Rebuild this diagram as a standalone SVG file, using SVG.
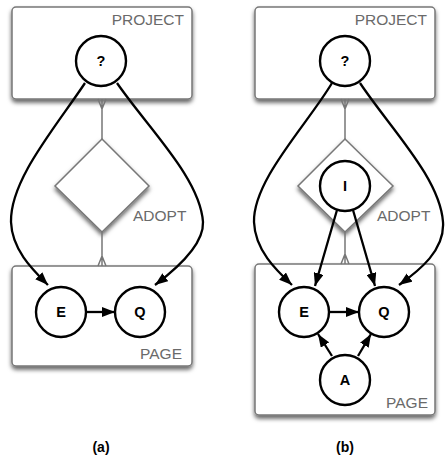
<svg xmlns="http://www.w3.org/2000/svg" width="445" height="458" viewBox="0 0 445 458">
<style>
.box{fill:#fff;stroke:#777;stroke-width:1.5;filter:url(#sh)}
.dia{fill:#fff;stroke:#777;stroke-width:1.5;filter:url(#sh)}
.lbl{font-family:"Liberation Sans",Arial,sans-serif;font-size:15.5px;fill:#6a6a6a}
.node{fill:#fff;stroke:#000;stroke-width:2.4}
.nt{font-family:"Liberation Sans",Arial,sans-serif;font-size:14.5px;font-weight:bold;fill:#000;text-anchor:middle}
.gl{fill:none;stroke:#777;stroke-width:1.5}
.bl{fill:none;stroke:#000;stroke-width:2.3;marker-end:url(#ah)}
.cap{font-family:"Liberation Sans",Arial,sans-serif;font-size:14px;font-weight:bold;fill:#000;text-anchor:middle}
</style>
<defs>
<filter id="sh" x="-20%" y="-20%" width="140%" height="150%">
<feDropShadow dx="0" dy="3" stdDeviation="2" flood-color="#000" flood-opacity="0.6"/>
</filter>
<marker id="ah" viewBox="0 0 13 10" refX="13" refY="5" markerWidth="13" markerHeight="10" markerUnits="userSpaceOnUse" orient="auto">
<path d="M0,0 L13,5 L0,10 z" fill="#000"/>
</marker>
</defs>

<g id="project-a"><rect class="box" x="12" y="7" width="180" height="92" rx="4"/><text class="lbl" x="184" y="25" text-anchor="end">PROJECT</text></g>
<g id="page-a"><rect class="box" x="12" y="266" width="180" height="100" rx="4"/><text class="lbl" x="182" y="359" text-anchor="end">PAGE</text></g>
<g id="adopt-a"><polygon class="dia" points="102,139 149,186 102,232 55,186"/><text class="lbl" x="133" y="221">ADOPT</text></g>

<g id="project-b"><rect class="box" x="255" y="7" width="180" height="92" rx="4"/><text class="lbl" x="427" y="25" text-anchor="end">PROJECT</text></g>
<g id="page-b"><rect class="box" x="255" y="264" width="180" height="151" rx="4"/><text class="lbl" x="428" y="408" text-anchor="end">PAGE</text></g>
<g id="adopt-b"><polygon class="dia" points="345,139 393,186 345,232 298,186"/><text class="lbl" x="377" y="221">ADOPT</text></g>

<g id="connectors">
<path class="gl" d="M102,99 L102,139 M98,99 L102,109 L106,99"/>
<path class="gl" d="M102,232 L102,266 M98,266 L102,256 L106,266"/>
<path class="gl" d="M345,99 L345,139 M341,99 L345,109 L349,99"/>
<path class="gl" d="M345,232 L345,264 M341,264 L345,254 L349,264"/>

<path class="bl" d="M85,83 C55,128 10,180 11,222 C12,250 33,270 48,285"/>
<path class="bl" d="M117,83 C148,128 200,178 203,222 C204,245 175,270 155,285"/>
<path class="bl" d="M86,312 L115,312"/>

<path class="bl" d="M332,83 C307,125 253,180 254,222 C255,250 276,270 292,285"/>
<path class="bl" d="M360,83 C390,128 440,178 443,222 C445,250 420,270 399,285"/>
<path class="bl" d="M337,210 L315,286"/>
<path class="bl" d="M353,210 L375,286"/>
<path class="bl" d="M329,312 L359,312"/>
<path class="bl" d="M332,356 L318,334"/>
<path class="bl" d="M358,356 L371,334"/>
</g>

<g id="q-a"><circle class="node" cx="101" cy="61" r="25"/><text class="nt" x="101" y="66">?</text></g>
<g id="e-a"><circle class="node" cx="61" cy="312" r="25"/><text class="nt" x="61" y="317">E</text></g>
<g id="qq-a"><circle class="node" cx="140" cy="312" r="25"/><text class="nt" x="140" y="317">Q</text></g>

<g id="q-b"><circle class="node" cx="345" cy="61" r="25"/><text class="nt" x="345" y="66">?</text></g>
<g id="i-b"><circle class="node" cx="345" cy="186" r="25"/><text class="nt" x="345" y="191">I</text></g>
<g id="e-b"><circle class="node" cx="304" cy="312" r="25"/><text class="nt" x="304" y="317">E</text></g>
<g id="qq-b"><circle class="node" cx="384" cy="312" r="25"/><text class="nt" x="384" y="317">Q</text></g>
<g id="a-b"><circle class="node" cx="345" cy="380" r="25"/><text class="nt" x="345" y="385">A</text></g>

<text class="cap" x="101" y="452">(a)</text>
<text class="cap" x="345" y="452">(b)</text>
</svg>
